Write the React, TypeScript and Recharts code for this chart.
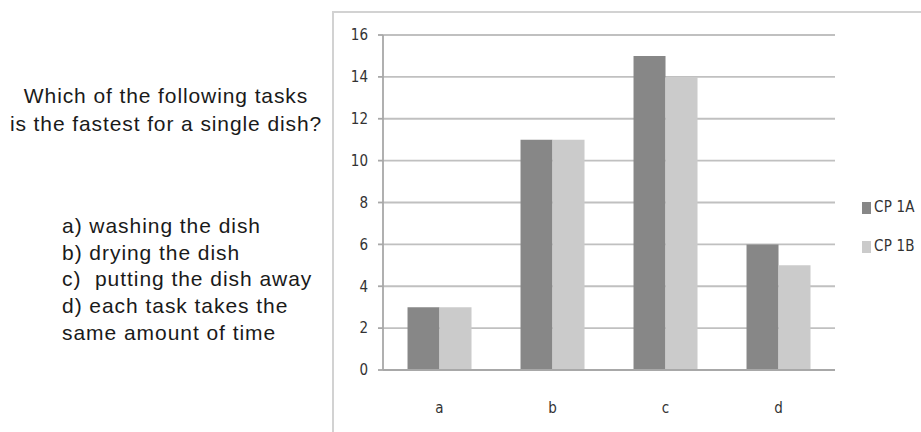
import React from "react";
import { BarChart, Bar, XAxis, YAxis, CartesianGrid, Legend } from "recharts";

const categories = ["a", "b", "c", "d"];
const cp1a = [3, 11, 15, 6];
const cp1b = [3, 11, 14, 5];
const yTicks = [0, 2, 4, 6, 8, 10, 12, 14, 16];
const boundaryTicks = [0, 1, 2, 3, 4];
const seriesNames = ["CP 1A", "CP 1B"];
const seriesColors = ["#878787", "#cbcbcb"];
const titleLines = ["Which of the following tasks", "is the fastest for a single dish?"];
const optionLines = [
  "a) washing the dish",
  "b) drying the dish",
  "c)\u00a0 putting the dish away",
  "d) each task takes the",
  "same amount of time",
];

const data = categories.map((c, i) => ({ cat: c, a: cp1a[i], b: cp1b[i] }));

const tickFont = "'Liberation Sans Narrow', 'DejaVu Sans Condensed', sans-serif";

const LegendContent = () => (
  <div style={{ position: "relative", width: 70, height: 70 }}>
    {seriesNames.map((n, i) => (
      <div
        key={n}
        style={{ position: "absolute", left: 0, top: i * 39, display: "flex", alignItems: "flex-end" }}
      >
        <div style={{ width: 9, height: 12, background: seriesColors[i] }} />
        <div
          style={{
            marginLeft: 3,
            fontFamily: tickFont,
            fontSize: 15,
            lineHeight: "14px",
            color: "#333",
            letterSpacing: 0.2,
          }}
        >
          {n}
        </div>
      </div>
    ))}
  </div>
);

export default function App() {
  return (
    <div style={{ position: "absolute", left: 0, top: 0, width: 921, height: 432, overflow: "hidden", background: "#fff" }}>
      <div style={{ position: "absolute", left: 0, top: 82, width: 332, textAlign: "center", fontFamily: "'Liberation Sans', Arial, sans-serif", fontSize: 21, lineHeight: "28px", color: "#1a1a1a", letterSpacing: 0.9 }}>
        {titleLines.map((t) => (
          <div key={t} style={{ whiteSpace: "nowrap" }}>{t}</div>
        ))}
      </div>
      <div style={{ position: "absolute", left: 62, top: 213, fontFamily: "'Liberation Sans', Arial, sans-serif", fontSize: 21, lineHeight: "26.7px", color: "#1a1a1a", letterSpacing: 0.95 }}>
        {optionLines.map((t) => (
          <div key={t} style={{ whiteSpace: "nowrap" }}>{t}</div>
        ))}
      </div>
      <div style={{ position: "absolute", left: 332, top: 11, width: 700, height: 500, border: "2px solid #d2d2d2" }} />
      <div style={{ position: "absolute", left: 333, top: 12 }}>
        <BarChart
          width={600}
          height={440}
          data={data}
          margin={{ top: 23, right: 98, bottom: 32, left: 0 }}
          barCategoryGap="21.7%"
          barGap={0}
        >
          <CartesianGrid vertical={false} stroke="#c0c0c0" strokeWidth={1.8} />
          <XAxis
            xAxisId="bound"
            type="number"
            domain={[0, 4]}
            ticks={boundaryTicks}
            allowDataOverflow
            height={0}
            tick={false}
            tickSize={6}
            axisLine={false}
            tickLine={{ stroke: "#a8a8a8", strokeWidth: 1.8 }}
          />
          <XAxis
            dataKey="cat"
            height={50}
            tickLine={false}
            tickSize={0}
            tickMargin={32}
            axisLine={{ stroke: "#a8a8a8", strokeWidth: 1.8 }}
            tick={{ fontFamily: tickFont, fontSize: 15, fill: "#333" }}
          />
          <YAxis
            width={50}
            domain={[0, 16]}
            ticks={yTicks}
            interval={0}
            tickSize={5}
            tickMargin={10}
            axisLine={{ stroke: "#a8a8a8", strokeWidth: 1.8 }}
            tickLine={{ stroke: "#a8a8a8", strokeWidth: 1.8 }}
            tick={{ fontFamily: tickFont, fontSize: 15, fill: "#333" }}
          />
          <Legend
            layout="horizontal"
            verticalAlign="middle"
            align="center"
            content={<LegendContent />}
            wrapperStyle={{ position: "absolute", left: 529, top: 188, width: 70 }}
          />
          <Bar dataKey="a" name={seriesNames[0]} fill={seriesColors[0]} isAnimationActive={false} />
          <Bar dataKey="b" name={seriesNames[1]} fill={seriesColors[1]} isAnimationActive={false} />
        </BarChart>
      </div>
    </div>
  );
}
